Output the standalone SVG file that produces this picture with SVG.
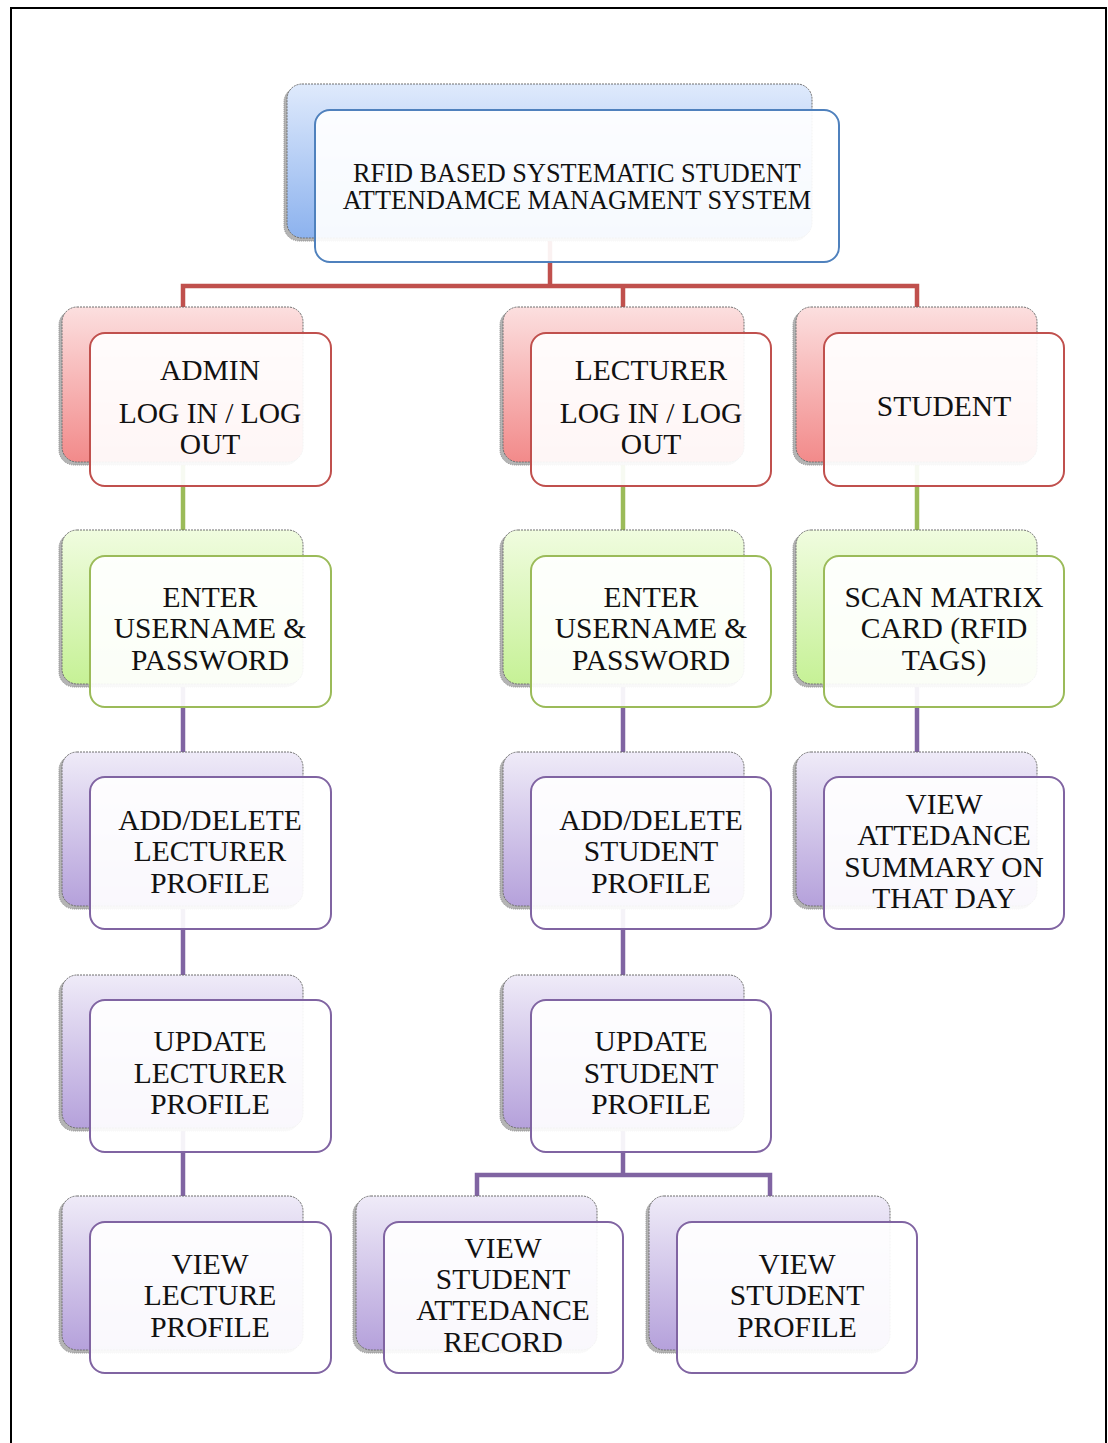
<svg xmlns="http://www.w3.org/2000/svg" width="1108" height="1443" viewBox="0 0 1108 1443">
  <defs>
    <linearGradient id="gBlue" x1="0" y1="0" x2="0" y2="1">
      <stop offset="0" stop-color="#dfeafc"/>
      <stop offset="1" stop-color="#8cb2ee"/>
    </linearGradient>
    <linearGradient id="gRed" x1="0" y1="0" x2="0" y2="1">
      <stop offset="0" stop-color="#fcdfdf"/>
      <stop offset="1" stop-color="#f28a8a"/>
    </linearGradient>
    <linearGradient id="gGreen" x1="0" y1="0" x2="0" y2="1">
      <stop offset="0" stop-color="#f0fcdf"/>
      <stop offset="1" stop-color="#c6f196"/>
    </linearGradient>
    <linearGradient id="gPurple" x1="0" y1="0" x2="0" y2="1">
      <stop offset="0" stop-color="#efebf8"/>
      <stop offset="1" stop-color="#b5a1db"/>
    </linearGradient>
    <style>
      .shadow { fill: #b4b4b4; stroke: #8a8a8a; stroke-width: 1; stroke-dasharray: 1 1; }
      .back { stroke: #6e6e6e; stroke-width: 1; stroke-dasharray: 2 1; }
      .front { fill: #ffffff; fill-opacity: 0.92; stroke-width: 2; }
      .blue .back { fill: url(#gBlue); }
      .blue .front { stroke: #4f81bd; }
      .red .back { fill: url(#gRed); }
      .red .front { stroke: #c0504d; }
      .green .back { fill: url(#gGreen); }
      .green .front { stroke: #9bbb59; }
      .purple .back { fill: url(#gPurple); }
      .purple .front { stroke: #8064a2; }
      text { font-family: "Liberation Serif", "Times New Roman", serif; font-size: 29.5px; fill: #111; text-anchor: middle; }
      .title text { font-size: 26.3px; }
      .conn { fill: none; stroke-width: 4.5; stroke-linecap: square; }
    </style>
  </defs>

  <!-- page frame -->
  <path d="M11,1443 V8 H1106 V1443" fill="none" stroke="#000" stroke-width="2"/>

  <!-- connectors -->
  <g id="connectors">
    <path class="conn" stroke="#c0504d" d="M550,238 V286 M183,286 H917 M183,286 V307 M623,286 V307 M917,286 V307"/>
    <path class="conn" stroke="#9bbb59" d="M183,462 V530 M623,462 V530 M917,462 V530"/>
    <path class="conn" stroke="#8064a2" d="M183,684 V752 M183,906 V975 M183,1128 V1196 M623,684 V752 M623,906 V975 M623,1128 V1175 M477,1175 H770 M477,1175 V1196 M770,1175 V1196 M917,684 V752"/>
  </g>

  <!-- title -->
  <g id="node-title" class="blue title">
    <rect class="shadow" x="284" y="87" width="525" height="154" rx="15"/>
    <rect class="back" x="287" y="84" width="525" height="154" rx="15"/>
    <rect class="front" x="315" y="110" width="524" height="152" rx="15"/>
    <text x="577" y="182">RFID BASED SYSTEMATIC STUDENT</text>
    <text x="577" y="209">ATTENDAMCE MANAGMENT SYSTEM</text>
  </g>

  <!-- row 1 -->
  <g id="node-admin" class="red">
    <rect class="shadow" x="59" y="310" width="241" height="155" rx="15"/>
    <rect class="back" x="62" y="307" width="241" height="155" rx="15"/>
    <rect class="front" x="90" y="333" width="241" height="153" rx="15"/>
    <text x="210" y="380">ADMIN</text>
    <text x="210" y="423">LOG IN / LOG</text>
    <text x="210" y="454">OUT</text>
  </g>
  <g id="node-lecturer" class="red">
    <rect class="shadow" x="500" y="310" width="241" height="155" rx="15"/>
    <rect class="back" x="503" y="307" width="241" height="155" rx="15"/>
    <rect class="front" x="531" y="333" width="240" height="153" rx="15"/>
    <text x="651" y="380">LECTURER</text>
    <text x="651" y="423">LOG IN / LOG</text>
    <text x="651" y="454">OUT</text>
  </g>
  <g id="node-student" class="red">
    <rect class="shadow" x="793" y="310" width="241" height="155" rx="15"/>
    <rect class="back" x="796" y="307" width="241" height="155" rx="15"/>
    <rect class="front" x="824" y="333" width="240" height="153" rx="15"/>
    <text x="944" y="416">STUDENT</text>
  </g>

  <!-- row 2 -->
  <g id="node-admin-login" class="green">
    <rect class="shadow" x="59" y="533" width="241" height="154" rx="15"/>
    <rect class="back" x="62" y="530" width="241" height="154" rx="15"/>
    <rect class="front" x="90" y="556" width="241" height="151" rx="15"/>
    <text x="210" y="607">ENTER</text>
    <text x="210" y="638">USERNAME &amp;</text>
    <text x="210" y="670">PASSWORD</text>
  </g>
  <g id="node-lecturer-login" class="green">
    <rect class="shadow" x="500" y="533" width="241" height="154" rx="15"/>
    <rect class="back" x="503" y="530" width="241" height="154" rx="15"/>
    <rect class="front" x="531" y="556" width="240" height="151" rx="15"/>
    <text x="651" y="607">ENTER</text>
    <text x="651" y="638">USERNAME &amp;</text>
    <text x="651" y="670">PASSWORD</text>
  </g>
  <g id="node-scan-card" class="green">
    <rect class="shadow" x="793" y="533" width="241" height="154" rx="15"/>
    <rect class="back" x="796" y="530" width="241" height="154" rx="15"/>
    <rect class="front" x="824" y="556" width="240" height="151" rx="15"/>
    <text x="944" y="607">SCAN MATRIX</text>
    <text x="944" y="638">CARD (RFID</text>
    <text x="944" y="670">TAGS)</text>
  </g>

  <!-- row 3 -->
  <g id="node-add-lecturer" class="purple">
    <rect class="shadow" x="59" y="755" width="241" height="154" rx="15"/>
    <rect class="back" x="62" y="752" width="241" height="154" rx="15"/>
    <rect class="front" x="90" y="777" width="241" height="152" rx="15"/>
    <text x="210" y="830">ADD/DELETE</text>
    <text x="210" y="861">LECTURER</text>
    <text x="210" y="893">PROFILE</text>
  </g>
  <g id="node-add-student" class="purple">
    <rect class="shadow" x="500" y="755" width="241" height="154" rx="15"/>
    <rect class="back" x="503" y="752" width="241" height="154" rx="15"/>
    <rect class="front" x="531" y="777" width="240" height="152" rx="15"/>
    <text x="651" y="830">ADD/DELETE</text>
    <text x="651" y="861">STUDENT</text>
    <text x="651" y="893">PROFILE</text>
  </g>
  <g id="node-attendance-summary" class="purple">
    <rect class="shadow" x="793" y="755" width="241" height="154" rx="15"/>
    <rect class="back" x="796" y="752" width="241" height="154" rx="15"/>
    <rect class="front" x="824" y="777" width="240" height="152" rx="15"/>
    <text x="944" y="814">VIEW</text>
    <text x="944" y="845">ATTEDANCE</text>
    <text x="944" y="877">SUMMARY ON</text>
    <text x="944" y="908">THAT DAY</text>
  </g>

  <!-- row 4 -->
  <g id="node-update-lecturer" class="purple">
    <rect class="shadow" x="59" y="978" width="241" height="153" rx="15"/>
    <rect class="back" x="62" y="975" width="241" height="153" rx="15"/>
    <rect class="front" x="90" y="1000" width="241" height="152" rx="15"/>
    <text x="210" y="1051">UPDATE</text>
    <text x="210" y="1083">LECTURER</text>
    <text x="210" y="1114">PROFILE</text>
  </g>
  <g id="node-update-student" class="purple">
    <rect class="shadow" x="500" y="978" width="241" height="153" rx="15"/>
    <rect class="back" x="503" y="975" width="241" height="153" rx="15"/>
    <rect class="front" x="531" y="1000" width="240" height="152" rx="15"/>
    <text x="651" y="1051">UPDATE</text>
    <text x="651" y="1083">STUDENT</text>
    <text x="651" y="1114">PROFILE</text>
  </g>

  <!-- row 5 -->
  <g id="node-view-lecture" class="purple">
    <rect class="shadow" x="59" y="1199" width="241" height="154" rx="15"/>
    <rect class="back" x="62" y="1196" width="241" height="154" rx="15"/>
    <rect class="front" x="90" y="1222" width="241" height="151" rx="15"/>
    <text x="210" y="1274">VIEW</text>
    <text x="210" y="1305">LECTURE</text>
    <text x="210" y="1337">PROFILE</text>
  </g>
  <g id="node-attendance-record" class="purple">
    <rect class="shadow" x="353" y="1199" width="241" height="154" rx="15"/>
    <rect class="back" x="356" y="1196" width="241" height="154" rx="15"/>
    <rect class="front" x="384" y="1222" width="239" height="151" rx="15"/>
    <text x="503" y="1258">VIEW</text>
    <text x="503" y="1289">STUDENT</text>
    <text x="503" y="1320">ATTEDANCE</text>
    <text x="503" y="1352">RECORD</text>
  </g>
  <g id="node-student-profile" class="purple">
    <rect class="shadow" x="646" y="1199" width="241" height="154" rx="15"/>
    <rect class="back" x="649" y="1196" width="241" height="154" rx="15"/>
    <rect class="front" x="677" y="1222" width="240" height="151" rx="15"/>
    <text x="797" y="1274">VIEW</text>
    <text x="797" y="1305">STUDENT</text>
    <text x="797" y="1337">PROFILE</text>
  </g>
</svg>
